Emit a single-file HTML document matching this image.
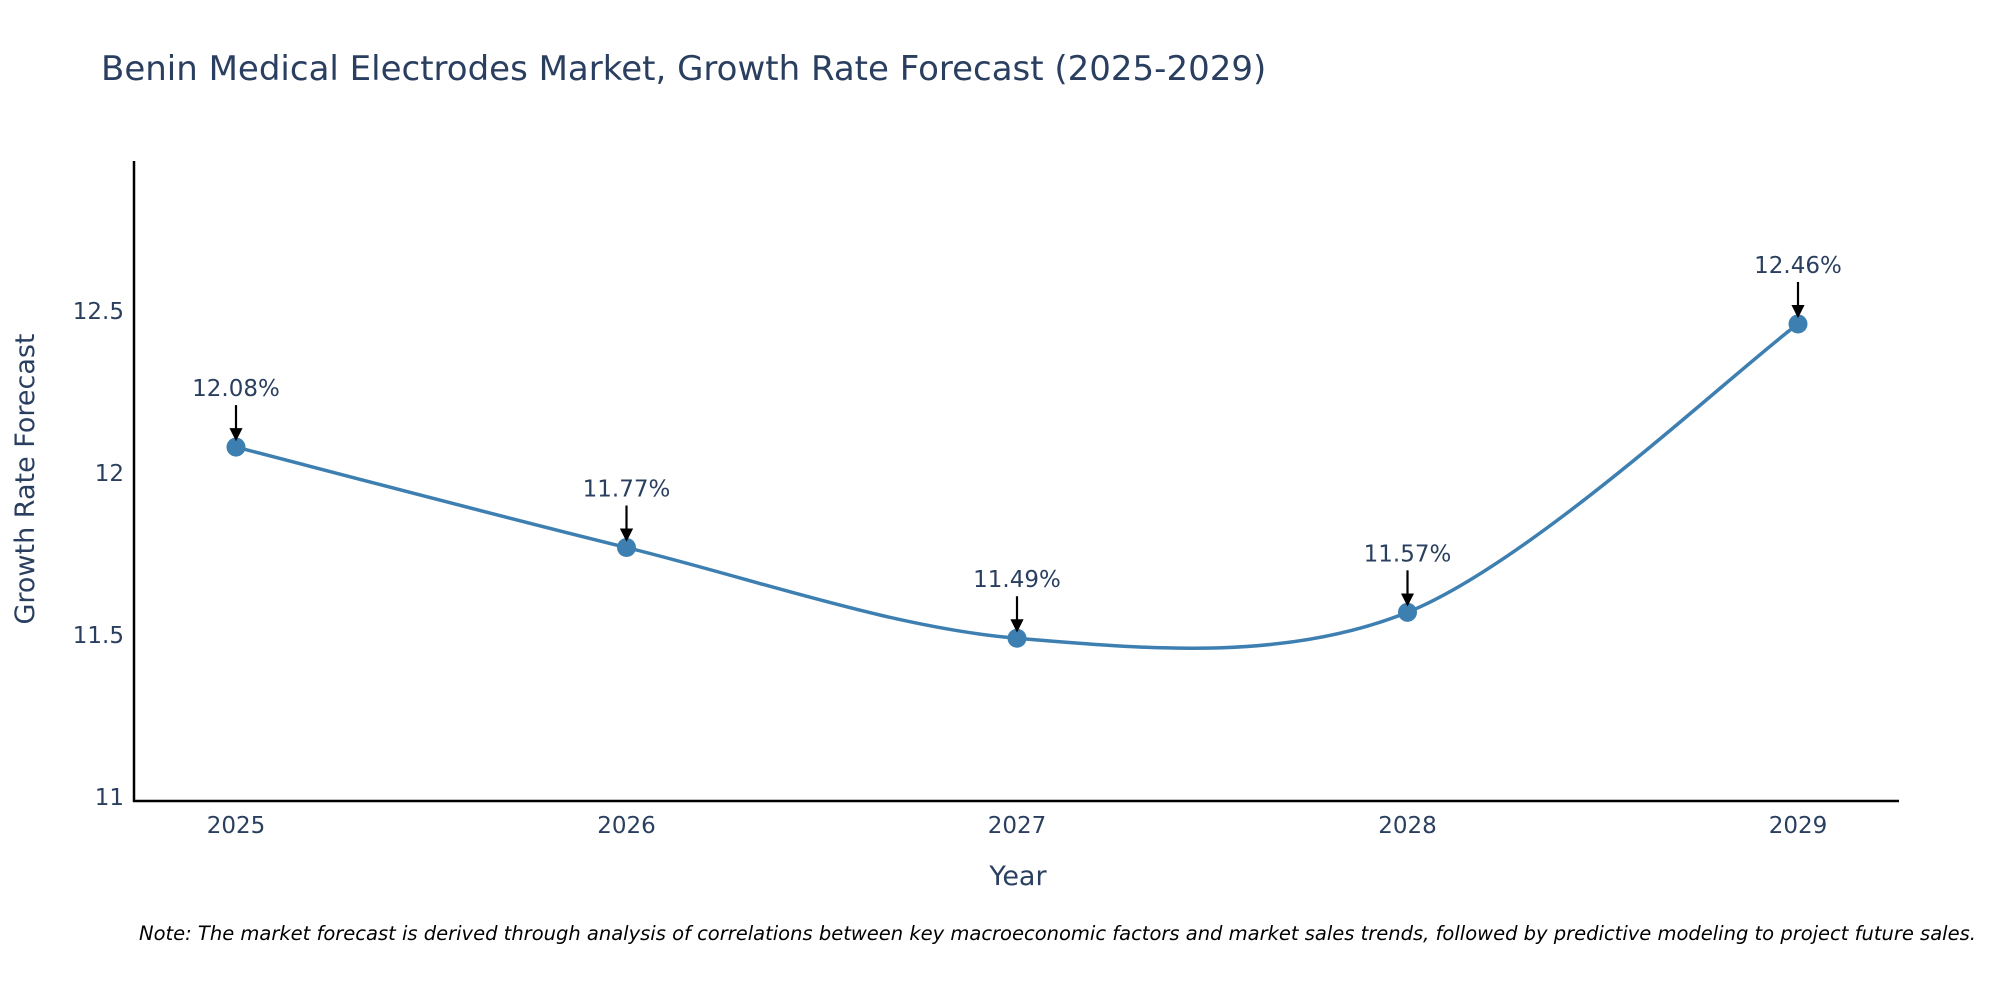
<!DOCTYPE html>
<html><head><meta charset="utf-8"><style>
body{margin:0;background:#fff;font-family:"DejaVu Sans",sans-serif;overflow:hidden;}
svg text{font-family:"DejaVu Sans",sans-serif;}
</style></head><body>
<svg id="chart" width="2000" height="1000" viewBox="0 0 2000 1000" xmlns="http://www.w3.org/2000/svg">
<rect width="2000" height="1000" fill="#fff"/>
<text x="101" y="80" font-size="34" fill="#2a3f5f">Benin Medical Electrodes Market, Growth Rate Forecast (2025-2029)</text>
<g id="axes"></g>
<g id="series"></g>
<text transform="translate(34,479) rotate(-90)" text-anchor="middle" font-size="27" fill="#2a3f5f">Growth Rate Forecast</text>
<text x="1018" y="885" text-anchor="middle" font-size="27" fill="#2a3f5f">Year</text>
<text x="139" y="940" font-size="19.5" font-style="italic" fill="#000">Note: The market forecast is derived through analysis of correlations between key macroeconomic factors and market sales trends, followed by predictive modeling to project future sales.</text>
</svg>
<script>
const categories = [2025, 2026, 2027, 2028, 2029];
const values = [12.08, 11.77, 11.49, 11.57, 12.46];
const yTicks = [11, 11.5, 12, 12.5];
const labels = ["12.08%", "11.77%", "11.49%", "11.57%", "12.46%"];

const NS = "http://www.w3.org/2000/svg";
const x0 = 236, xStep = 390.5;
function xs(i){ return x0 + i * xStep; }
function ys(v){ return 797 - (v - 11) * 324; }
function mk(tag, attrs, parent){
  const e = document.createElementNS(NS, tag);
  for (const k in attrs) e.setAttribute(k, attrs[k]);
  parent.appendChild(e); return e;
}
const axes = document.getElementById('axes');
const series = document.getElementById('series');

const yl = mk('line', {x1:134, y1:161, x2:134, y2:802, stroke:'#000', 'stroke-width':2.5}, axes);


const xl = mk('line', {x1:133, y1:801, x2:1899, y2:801, stroke:'#000', 'stroke-width':2.5}, axes);



yTicks.forEach(t => {
  const tx = mk('text', {x:124, y:ys(t)+8, 'text-anchor':'end', 'font-size':23, fill:'#2a3f5f'}, axes);
  tx.textContent = String(t);
  
  
});
categories.forEach((c, i) => {
  const tx = mk('text', {x:xs(i), y:833, 'text-anchor':'middle', 'font-size':23, fill:'#2a3f5f'}, axes);
  tx.textContent = String(c);
  
  
});

const pts = values.map((v, i) => [xs(i), ys(v)]);
let d = `M${pts[0][0]},${pts[0][1]}`;
const s = 0.16;
for (let i = 0; i < pts.length - 1; i++) {
  const p0 = pts[Math.max(0, i-1)], p1 = pts[i], p2 = pts[i+1], p3 = pts[Math.min(pts.length-1, i+2)];
  const c1 = [p1[0] + (p2[0]-p0[0])*s, p1[1] + (p2[1]-p0[1])*s];
  const c2 = [p2[0] - (p3[0]-p1[0])*s, p2[1] - (p3[1]-p1[1])*s];
  d += ` C${c1[0]},${c1[1]} ${c2[0]},${c2[1]} ${p2[0]},${p2[1]}`;
}
const line = mk('path', {d:d, fill:'none', stroke:'#3d7fb1', 'stroke-width':3.5}, series);



const defs = mk('defs', {}, series);
const marker = mk('marker', {id:'arr', markerWidth:6, markerHeight:6, refX:5, refY:3, orient:'auto', markerUnits:'strokeWidth'}, defs);
mk('path', {d:'M0,0 L6,3 L0,6 Z', fill:'#000'}, marker);

pts.forEach((p, i) => {
  const c = mk('circle', {cx:p[0], cy:p[1], r:9.5, fill:'#3d7fb1'}, series);
  
  
  const a = mk('line', {x1:p[0], y1:p[1]-42, x2:p[0], y2:p[1]-8, stroke:'#000', 'stroke-width':2.2, 'marker-end':'url(#arr)'}, series);
  
  
  const t = mk('text', {x:p[0], y:p[1]-51, 'text-anchor':'middle', 'font-size':23, fill:'#2a3f5f'}, series);
  t.textContent = labels[i];
  
  
});
</script>
</body></html>
